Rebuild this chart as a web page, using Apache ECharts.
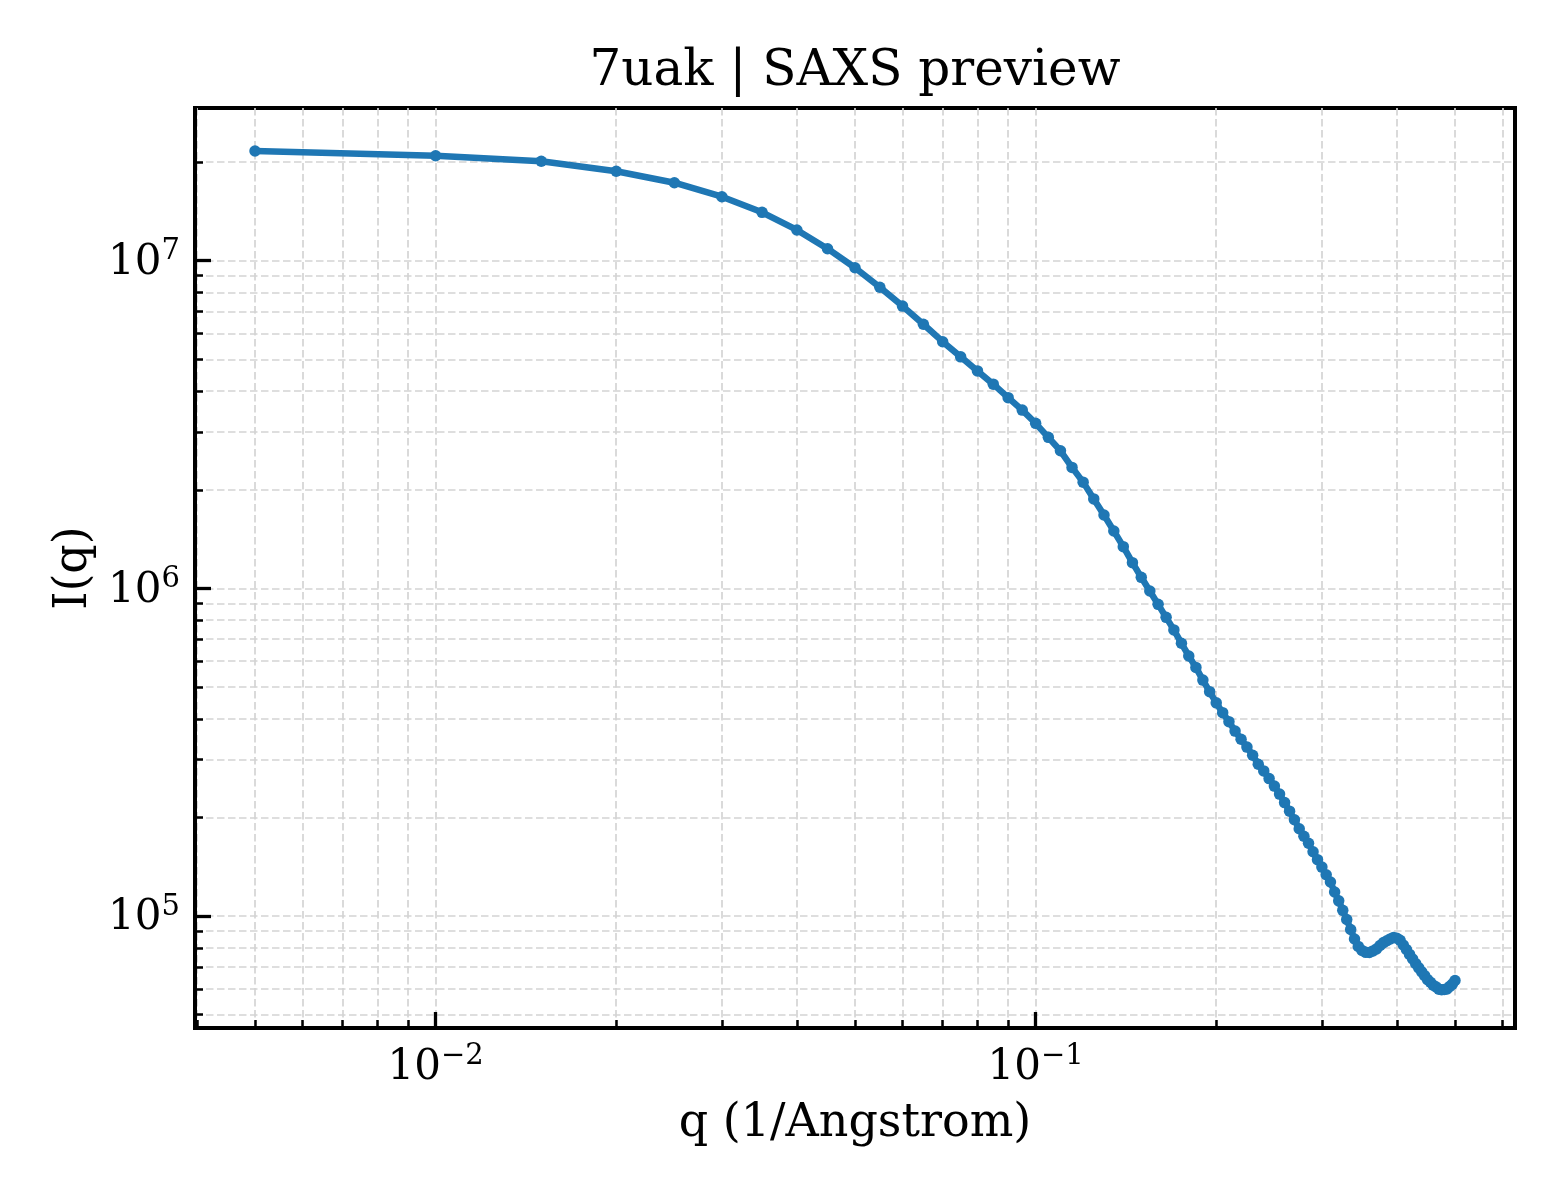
<!DOCTYPE html>
<html>
<head>
<meta charset="utf-8">
<script src="https://cdn.jsdelivr.net/npm/echarts@6/dist/echarts.min.js"></script>
<style>
html,body{margin:0;padding:0;background:#fff;}
#chart{width:1560px;height:1200px;}
</style>
</head>
<body>
<div id="chart"></div>
<script>
// ---- data ----
const Q = [0.005,0.01,0.015,0.02,0.025,0.03,0.035,0.04,0.045,0.05,
0.055,0.06,0.065,0.07,0.075,0.08,0.085,0.09,0.095,0.1,
0.105,0.11,0.115,0.12,0.125,0.13,0.135,0.14,0.145,0.15,
0.155,0.16,0.165,0.17,0.175,0.18,0.185,0.19,0.195,0.2,
0.205,0.21,0.215,0.22,0.225,0.23,0.235,0.24,0.245,0.25,
0.255,0.26,0.265,0.27,0.275,0.28,0.285,0.29,0.295,0.3,
0.305,0.31,0.315,0.32,0.325,0.33,0.335,0.34,0.345,0.35,
0.355,0.36,0.365,0.37,0.375,0.38,0.385,0.39,0.395,0.4,
0.405,0.41,0.415,0.42,0.425,0.43,0.435,0.44,0.445,0.45,
0.455,0.46,0.465,0.47,0.475,0.48,0.485,0.49,0.495,0.5];
const I = [2.162e7,2.091e7,2.011e7,1.875e7,1.730e7,1.568e7,1.405e7,1.241e7,1.088e7,9.52e6,
8.30e6,7.27e6,6.40e6,5.66e6,5.09e6,4.61e6,4.20e6,3.82e6,3.50e6,3.19e6,
2.89e6,2.63e6,2.34e6,2.11e6,1.875e6,1.675e6,1.497e6,1.341e6,1.198e6,1.081e6,
9.82e5,8.94e5,8.16e5,7.47e5,6.80e5,6.22e5,5.74e5,5.25e5,4.84e5,4.474e5,
4.176e5,3.920e5,3.669e5,3.466e5,3.279e5,3.097e5,2.907e5,2.774e5,2.628e5,2.493e5,
2.357e5,2.220e5,2.090e5,1.968e5,1.847e5,1.752e5,1.669e5,1.572e5,1.487e5,1.411e5,
1.337e5,1.271e5,1.184e5,1.113e5,1.041e5,9.76e4,9.10e4,8.51e4,8.08e4,7.85e4,
7.75e4,7.74e4,7.83e4,7.94e4,8.13e4,8.30e4,8.41e4,8.52e4,8.61e4,8.56e4,
8.44e4,8.16e4,7.91e4,7.64e4,7.40e4,7.16e4,6.95e4,6.76e4,6.58e4,6.40e4,
6.28e4,6.15e4,6.08e4,5.98e4,5.96e4,5.97e4,5.99e4,6.10e4,6.20e4,6.36e4];
const X_MAJOR = [0.01, 0.1];
const X_MINOR = [0.004,0.005,0.006,0.007,0.008,0.009,0.02,0.03,0.04,0.05,0.06,0.07,0.08,0.09,0.2,0.3,0.4,0.5,0.6];
const Y_MAJOR = [1e5, 1e6, 1e7];
const Y_MINOR = [5e4,6e4,7e4,8e4,9e4,2e5,3e5,4e5,5e5,6e5,7e5,8e5,9e5,2e6,3e6,4e6,5e6,6e6,7e6,8e6,9e6,2e7];
const TITLE = '7uak | SAXS preview';
const X_NAME = 'q (1/Angstrom)';
const Y_NAME = 'I(q)';

// ---- styling ----
const FONT = 'DejaVu Serif';
const XMIN = Math.pow(10, -2.40103), XMAX = Math.pow(10, -0.20103);
const YMIN = Math.pow(10, 4.6585), YMAX = Math.pow(10, 7.466);
const gridLine = {show: true, lineStyle: {color: '#d4d4d4', width: 1.7, type: [7.5, 3.5]}};
const rich = {
  b: {fontFamily: FONT, fontSize: 42, lineHeight: 47, verticalAlign: 'bottom', color: '#000'},
  s: {fontFamily: FONT, fontSize: 29, lineHeight: 29, verticalAlign: 'top', color: '#000'}
};
function powLabel(v) {
  const e = Math.round(Math.log10(v));
  return '{b|10}{s|' + (e < 0 ? '\u2212' + (-e) : e) + '}';
}
const seriesData = Q.map((q, i) => [q, I[i]]);

const chart = echarts.init(document.getElementById('chart'), null, {renderer: 'canvas'});
chart.setOption({
  animation: false,
  backgroundColor: '#fff',
  title: {
    text: TITLE, left: 855, top: 47, textAlign: 'center', padding: 0,
    textStyle: {fontFamily: FONT, fontSize: 50, fontWeight: 'normal', color: '#000'}
  },
  grid: {left: 195, right: 45, top: 108, bottom: 172, show: true, borderColor: '#000', borderWidth: 4, backgroundColor: 'transparent'},
  xAxis: [
    {
      type: 'log', logBase: 10, min: XMIN, max: XMAX, position: 'bottom',
      name: X_NAME, nameLocation: 'middle', nameGap: 73,
      nameTextStyle: {fontFamily: FONT, fontSize: 46, color: '#000'},
      axisLine: {show: true, onZero: false, lineStyle: {color: '#000', width: 4}},
      axisTick: {show: true, inside: true, length: 16, customValues: X_MAJOR, lineStyle: {color: '#000', width: 3.3}},
      axisLabel: {show: true, customValues: X_MAJOR, margin: 14, formatter: powLabel, rich: rich, fontFamily: FONT, fontSize: 42, color: '#000'},
      splitLine: gridLine, minorTick: {show: false}, minorSplitLine: {show: false}
    },
    {
      type: 'log', logBase: 10, min: XMIN, max: XMAX, position: 'bottom',
      axisLine: {show: false},
      axisTick: {show: true, inside: true, length: 8, customValues: X_MINOR, lineStyle: {color: '#000', width: 2.5}},
      axisLabel: {show: false},
      splitLine: gridLine
    }
  ],
  yAxis: [
    {
      type: 'log', logBase: 10, min: YMIN, max: YMAX, position: 'left',
      name: Y_NAME, nameLocation: 'middle', nameGap: 97, nameRotate: 90,
      nameTextStyle: {fontFamily: FONT, fontSize: 46, color: '#000'},
      axisLine: {show: true, onZero: false, lineStyle: {color: '#000', width: 4}},
      axisTick: {show: true, inside: true, length: 16, customValues: Y_MAJOR, lineStyle: {color: '#000', width: 3.3}},
      axisLabel: {show: true, customValues: Y_MAJOR, margin: 15, formatter: powLabel, rich: rich, fontFamily: FONT, fontSize: 42, color: '#000'},
      splitLine: gridLine, minorTick: {show: false}, minorSplitLine: {show: false}
    },
    {
      type: 'log', logBase: 10, min: YMIN, max: YMAX, position: 'left',
      axisLine: {show: false},
      axisTick: {show: true, inside: true, length: 8, customValues: Y_MINOR, lineStyle: {color: '#000', width: 2.5}},
      axisLabel: {show: false},
      splitLine: gridLine
    }
  ],
  series: [{
    type: 'line', xAxisIndex: 0, yAxisIndex: 0,
    data: seriesData,
    symbol: 'circle', symbolSize: 11.5, showSymbol: true,
    itemStyle: {color: '#1f77b4', borderWidth: 0},
    lineStyle: {color: '#1f77b4', width: 6.5},
    clip: true, z: 10
  }]
});
</script>
</body>
</html>
